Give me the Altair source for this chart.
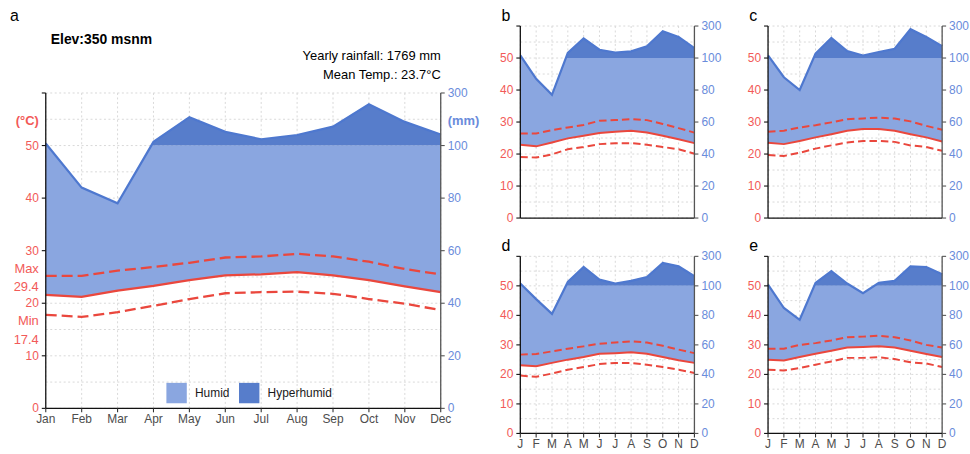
import altair as alt
import pandas as pd

# ---------------- data ----------------
months_long = ["Jan", "Feb", "Mar", "Apr", "May", "Jun", "Jul", "Aug", "Sep", "Oct", "Nov", "Dec"]
months_short = ["J", "F", "M", "A", "M", "J", "J", "A", "S", "O", "N", "D"]

prec_a = [108, 84, 78, 114, 208, 152, 124, 140, 172, 257, 190, 142]
tmean_a = [21.6, 21.2, 22.4, 23.3, 24.4, 25.3, 25.5, 25.9, 25.3, 24.4, 23.2, 22.1]
tmax_a = [25.2, 25.2, 26.2, 26.9, 27.7, 28.7, 28.9, 29.4, 28.9, 27.9, 26.5, 25.5]
tmin_a = [17.8, 17.4, 18.3, 19.5, 20.8, 21.9, 22.1, 22.2, 21.8, 20.8, 19.9, 18.7]

prec_b = [116, 87, 77, 132, 222, 152, 134, 142, 174, 268, 232, 162]
tmean_b = [22.9, 22.4, 23.6, 24.9, 25.7, 26.6, 27.0, 27.3, 26.7, 25.7, 24.6, 23.4]
tmax_b = [26.4, 26.4, 27.5, 28.3, 29.1, 30.4, 30.6, 30.9, 30.6, 29.4, 28.1, 26.7]
tmin_b = [19.1, 18.9, 19.9, 21.5, 22.2, 23.1, 23.4, 23.4, 22.9, 22.2, 21.5, 20.1]

prec_c = [116, 88, 80, 128, 226, 144, 116, 138, 158, 280, 232, 174]
tmean_c = [23.5, 23.1, 24.1, 25.2, 26.2, 27.3, 27.8, 27.8, 27.3, 26.2, 25.2, 23.9]
tmax_c = [27.0, 27.3, 28.3, 29.0, 29.9, 30.9, 31.1, 31.4, 31.1, 30.2, 28.8, 27.6]
tmin_c = [19.7, 19.4, 20.4, 21.7, 22.7, 23.6, 24.1, 24.1, 23.8, 22.7, 22.2, 21.0]

prec_d = [116, 91, 81, 126, 228, 142, 116, 134, 160, 256, 232, 166]
tmean_d = [23.1, 22.8, 23.9, 25.0, 25.9, 27.0, 27.2, 27.5, 27.0, 25.9, 24.8, 23.9]
tmax_d = [26.7, 26.9, 27.8, 28.7, 29.5, 30.4, 30.8, 31.2, 30.8, 29.7, 28.4, 27.2]
tmin_d = [19.6, 19.2, 20.3, 21.6, 22.5, 23.5, 23.9, 23.9, 23.3, 22.5, 21.6, 20.5]

prec_e = [108, 85, 77, 120, 200, 116, 95, 120, 134, 232, 228, 178]
tmean_e = [25.0, 24.7, 25.9, 27.0, 28.0, 29.1, 29.3, 29.5, 29.1, 28.0, 26.9, 25.9]
tmax_e = [28.7, 28.7, 30.0, 30.6, 31.5, 32.6, 32.8, 33.1, 32.6, 31.5, 30.0, 29.1]
tmin_e = [21.6, 21.3, 22.2, 23.3, 24.4, 25.6, 25.6, 25.8, 25.2, 24.1, 23.7, 22.5]

temp_ticks = [0, 10, 20, 30, 40, 50, 60]
temp_tick_labels = ["0", "10", "20", "30", "40", "50", ""]
prec_tick_labels = ["0", "20", "40", "60", "80", "100", "300"]

header_elev = "Elev:350 msnm"
header_rain = "Yearly rainfall: 1769 mm"
header_temp = "Mean Temp.: 23.7°C"
side_labels = ["Max", "29.4", "Min", "17.4"]
side_label_temp = [26.6, 23.0, 16.7, 13.0]
legend_names = ["Humid", "Hyperhumid"]

# ---------------- styles ----------------
FONT = "Liberation Sans"
LIGHT = "#8AA6E0"
DARK = "#577DCB"
PLINE = "#4E78CF"
RED = "#EA473D"
RED_TXT = "#F25A58"
BLUE_TXT = "#6A8CDB"
GRID = "#D9D9D9"
AX_L = "#111111"
AX_R = "#555555"
MONTH_TXT = "#4D4D4D"

PC_EXPR = "datum.p <= 100 ? datum.p / 2 : 50 + (datum.p - 100) / 20"


def panel(prec, tmean, tmax, tmin, W, H, letter, xlabels, big=False, top_pad=0):
    """top_pad: extra header space (px) inside the view above the plotting range."""
    df = pd.DataFrame({"i": list(range(12)), "p": prec, "tm": tmean, "tx": tmax, "tn": tmin})
    base = alt.Chart(df)
    VH = H + top_pad
    xs = alt.Scale(domain=[0, 11], nice=False, zero=False)
    ys = alt.Scale(domain=[0, 60], nice=False, zero=True, range=[VH, top_pad])
    X = lambda f: alt.X(f, scale=xs, axis=None)
    Y = lambda f: alt.Y(f, scale=ys, axis=None)
    lw = 2.3 if big else 2.0
    dash = [11, 5] if big else [7.5, 4]

    # grid lines (on the data scales)
    hgrid = alt.Chart(pd.DataFrame({"v": list(range(0, 61, 5))})).mark_rule(
        color=GRID, strokeWidth=1, strokeDash=[2, 2.5]
    ).encode(y=Y("v:Q"), x=alt.value(0), x2=alt.value(W))
    vgrid = alt.Chart(pd.DataFrame({"v": list(range(12))})).mark_rule(
        color=GRID, strokeWidth=1, strokeDash=[2, 2.5]
    ).encode(x=X("v:Q"), y=alt.value(top_pad), y2=alt.value(VH))

    ad = base.transform_calculate(pc=PC_EXPR).transform_window(
        pc_n="lead(pc)", tm_n="lead(tm)", sort=[alt.SortField("i")]
    ).transform_calculate(
        z0="0",
        z1="datum.pc_n != null && (datum.pc - 50) * (datum.pc_n - 50) < 0 ? (50 - datum.pc) / (datum.pc_n - datum.pc) : -1",
    ).transform_fold(["z0", "z1"], as_=["k", "f"]).transform_filter(
        "datum.f >= 0"
    ).transform_calculate(
        xx="datum.i + datum.f",
        yy="datum.f > 0 ? 50 : datum.pc",
        tt="datum.f > 0 ? datum.tm + datum.f * (datum.tm_n - datum.tm) : datum.tm",
    ).transform_calculate(
        hum="min(datum.yy, 50)", hyp="max(datum.yy, 50)", fifty="50"
    )

    if big:
        cscale = alt.Scale(domain=legend_names, range=[LIGHT, DARK])
        leg = alt.Legend(
            orient="none", legendX=121, legendY=top_pad + 291, direction="horizontal", title=None,
            symbolType="square", symbolSize=420, symbolStrokeWidth=0, symbolOpacity=1,
            labelFontSize=12, labelFont=FONT, labelColor="#1a1a1a", labelOffset=8, columnPadding=9,
        )
        hum_area = ad.transform_calculate(kind="'Humid'").mark_area().encode(
            x=X("xx:Q"), y=Y("hum:Q"), y2="tt:Q",
            color=alt.Color("kind:N", scale=cscale, legend=leg),
        )
        hyp_area = ad.transform_calculate(kind="'Hyperhumid'").mark_area().encode(
            x=X("xx:Q"), y=Y("hyp:Q"), y2="fifty:Q",
            color=alt.Color("kind:N", scale=cscale, legend=leg),
        )
    else:
        hum_area = ad.mark_area(color=LIGHT).encode(x=X("xx:Q"), y=Y("hum:Q"), y2="tt:Q")
        hyp_area = ad.mark_area(color=DARK).encode(x=X("xx:Q"), y=Y("hyp:Q"), y2="fifty:Q")

    pline = base.transform_calculate(pc=PC_EXPR).mark_line(color=PLINE, strokeWidth=2.2).encode(
        x=X("i:Q"), y=Y("pc:Q"))
    tn_line = base.mark_line(color=RED, strokeWidth=lw, strokeDash=dash).encode(x=X("i:Q"), y=Y("tn:Q"))
    tx_line = base.mark_line(color=RED, strokeWidth=lw, strokeDash=dash).encode(x=X("i:Q"), y=Y("tx:Q"))
    tm_line = base.mark_line(color=RED, strokeWidth=lw).encode(x=X("i:Q"), y=Y("tm:Q"))

    # ---- axes drawn on the same scales ----
    tick_df = pd.DataFrame({"v": temp_ticks, "lt": temp_tick_labels, "rt": prec_tick_labels})
    tick_base = alt.Chart(tick_df)
    one = alt.Chart(pd.DataFrame({"a": [0]}))
    l_dom = one.mark_rule(color=AX_L, strokeWidth=1.3).encode(
        x=alt.value(0), y=alt.value(top_pad), y2=alt.value(VH))
    r_dom = one.mark_rule(color=AX_R, strokeWidth=1.3).encode(
        x=alt.value(W), y=alt.value(top_pad), y2=alt.value(VH))
    b_dom = one.mark_rule(color=AX_L, strokeWidth=1.3).encode(
        y=alt.value(VH), x=alt.value(0), x2=alt.value(W))
    l_ticks = tick_base.mark_rule(color=AX_L, strokeWidth=1.1).encode(
        y=Y("v:Q"), x=alt.value(-4), x2=alt.value(0))
    r_ticks = tick_base.mark_rule(color=AX_R, strokeWidth=1.1).encode(
        y=Y("v:Q"), x=alt.value(W), x2=alt.value(W + 4))
    l_labels = tick_base.mark_text(align="right", baseline="middle", fontSize=12, font=FONT,
                                   color=RED_TXT).encode(y=Y("v:Q"), x=alt.value(-7), text="lt:N")
    r_labels = tick_base.mark_text(align="left", baseline="middle", fontSize=12, font=FONT,
                                   color=BLUE_TXT).encode(y=Y("v:Q"), x=alt.value(W + 7), text="rt:N")

    layers = [hgrid, vgrid, hum_area, hyp_area, pline, tn_line, tx_line, tm_line,
              l_dom, r_dom, b_dom, l_ticks, r_ticks, l_labels, r_labels]

    if xlabels is not None:
        mon_base = alt.Chart(pd.DataFrame({"i": list(range(12)), "m": xlabels}))
        layers.append(mon_base.mark_rule(color="#333333", strokeWidth=1.1).encode(
            x=X("i:Q"), y=alt.value(VH), y2=alt.value(VH + 4)))
        layers.append(mon_base.mark_text(baseline="top", fontSize=12, font=FONT, color=MONTH_TXT).encode(
            x=X("i:Q"), y=alt.value(VH + 6), text="m:N"))

    def txt(s, x, y, size=12, weight="normal", color="black", align="left", baseline="alphabetic"):
        return alt.Chart(pd.DataFrame({"t": [s]})).mark_text(
            fontSize=size, fontWeight=weight, color=color, align=align, baseline=baseline, font=FONT
        ).encode(text="t:N", x=alt.value(x), y=alt.value(y))

    if big:
        layers += [
            txt(letter, -36, top_pad - 72.3, size=16),
            txt(header_elev, 5, top_pad - 49.7, size=14, weight="bold"),
            txt(header_rain, W, top_pad - 33, size=13, align="right"),
            txt(header_temp, W, top_pad - 14.5, size=13, align="right"),
            txt("(°C)", -7, top_pad + 27.7, size=13, weight="bold", color=RED_TXT, align="right", baseline="middle"),
            txt("(mm)", W + 7, top_pad + 27.7, size=13, weight="bold", color=BLUE_TXT, align="left", baseline="middle"),
        ]
        side = alt.Chart(pd.DataFrame({"lab": side_labels, "yv": side_label_temp})).mark_text(
            fontSize=13, color=RED_TXT, align="right", baseline="middle", font=FONT
        ).encode(text="lab:N", x=alt.value(-7), y=Y("yv:Q"))
        layers.append(side)
    else:
        layers.append(txt(letter, -19, -5, size=16))

    return alt.layer(*layers).properties(
        width=W, height=VH, view=alt.ViewBackground(stroke="transparent", strokeWidth=0)
    )


pa = panel(prec_a, tmean_a, tmax_a, tmin_a, 397, 317, "a", months_long, big=True, top_pad=67.3)
pb = panel(prec_b, tmean_b, tmax_b, tmin_b, 175, 193, "b", None)
pc = panel(prec_c, tmean_c, tmax_c, tmin_c, 175, 193, "c", None)
pd_ = panel(prec_d, tmean_d, tmax_d, tmin_d, 175, 178, "d", months_short)
pe = panel(prec_e, tmean_e, tmax_e, tmin_e, 175, 178, "e", months_short)

right = alt.vconcat(
    alt.hconcat(pb, pc, spacing=25),
    alt.hconcat(pd_, pe, spacing=25),
    spacing=14.5,
)
chart = alt.hconcat(pa, right, spacing=20).resolve_legend(color="independent").properties(
    padding={"left": 10, "top": 7, "right": 0, "bottom": 0}
).configure_view(stroke="transparent", strokeWidth=0).configure(font=FONT, background="white")

chart.save("out.html", embed_options={"renderer": "svg", "actions": False})
